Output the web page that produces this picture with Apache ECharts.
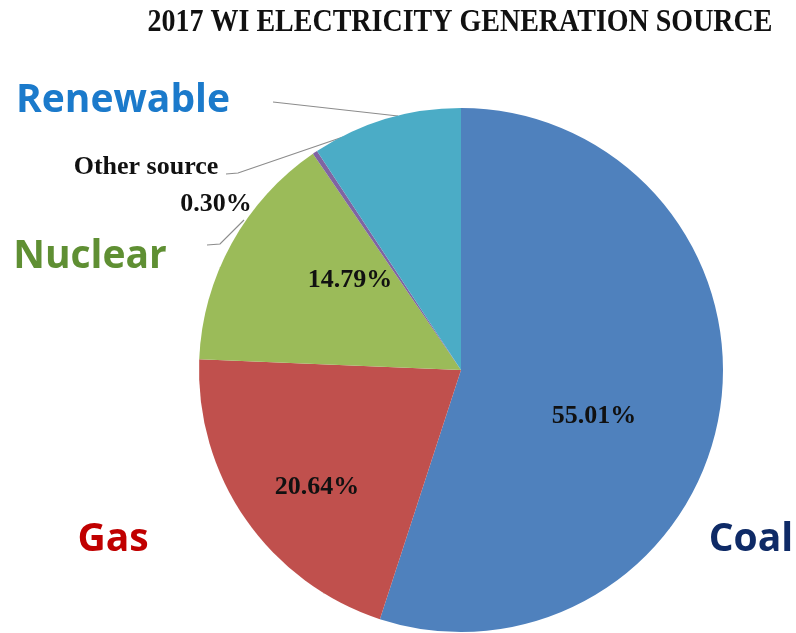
<!DOCTYPE html>
<html>
<head>
<meta charset="utf-8">
<script src="https://cdn.jsdelivr.net/npm/echarts@6/dist/echarts.min.js"></script>
<style>
  html, body { margin: 0; padding: 0; background: #ffffff; }
  #chart { width: 796px; height: 633px; }
</style>
</head>
<body>
<div id="chart"></div>
<script>
// 2017 Wisconsin electricity generation, share by source (%)
const sources = ['Coal', 'Gas', 'Nuclear', 'Other source', 'Renewable'];
const shares = [55.01, 20.64, 14.79, 0.30, 9.26];
const sliceColors = ['#4F81BD', '#C0504D', '#9BBB59', '#8064A2', '#4BACC6'];
const titleText = '2017 WI ELECTRICITY GENERATION SOURCE';

const serif = '"Liberation Serif", "DejaVu Serif", serif';
const sans = '"Open Sans", Lato, sans-serif';

// Which slices show their percentage inside the pie
const showPctInside = { 'Coal': true, 'Gas': true, 'Nuclear': true };

// Name label styles (large coloured words around the pie)
const nameStyle = {
  'Coal':      { color: '#0e2a66', fontSize: 39, fontFamily: sans },
  'Gas':       { color: '#c00000', fontSize: 39, fontFamily: sans },
  'Nuclear':   { color: '#5f8f33', fontSize: 39, fontFamily: sans },
  'Renewable': { color: '#1b7acb', fontSize: 39, fontFamily: sans },
  'Other source': { color: '#111', fontSize: 26, fontFamily: serif }
};

// Placement of labels around the pie
const pctPos = { 'Coal': [594, 416], 'Gas': [317, 487], 'Nuclear': [350, 280], 'Other source': [216, 204] };
const namePos = { 'Coal': [751, 540], 'Gas': [113, 540], 'Nuclear': [90, 257], 'Renewable': [123, 101], 'Other source': [146, 167] };
const guideLines = {
  'Renewable': [[273, 102], [398, 116]],
  'Other source': [[226, 174], [238, 173], [343, 137]],
  'Nuclear': [[207, 245], [220, 244], [244, 220]]
};

const fmtPct = v => v.toFixed(2) + '%';

const chart = echarts.init(document.getElementById('chart'), null, { renderer: 'canvas' });

const radius = 262;
const lineStyle = { color: '#8c8c8c', width: 1.2 };

// Pie slices with percentage labels
const mainData = sources.map((name, i) => {
  const item = { name: name, value: shares[i], itemStyle: { color: sliceColors[i] } };
  if (showPctInside[name]) {
    item.label = { show: true, position: 'inside', formatter: fmtPct(shares[i]) };
  } else {
    const st = nameStyle[name];
    item.label = { show: true, position: 'outside', overflow: 'none', formatter: name,
      color: st.color, fontSize: st.fontSize, fontFamily: st.fontFamily, fontWeight: 'bold' };
    item.labelLine = { show: true, lineStyle: lineStyle };
  }
  return item;
});

// Transparent overlay carrying the source names and the small-share value
const overlayData = sources.map((name, i) => {
  const item = { name: name, value: shares[i], itemStyle: { color: 'rgba(0,0,0,0)' } };
  if (name === 'Other source') {
    item.label = { show: true, position: 'inside', formatter: fmtPct(shares[i]),
      color: '#111', fontSize: 26, fontFamily: serif, fontWeight: 'bold' };
  } else if (name === 'Renewable') {
    item.label = { show: false };
  } else {
    const st = nameStyle[name];
    const withLine = name === 'Nuclear';
    item.label = { show: true, position: withLine ? 'outside' : 'inside', overflow: 'none', formatter: name,
      color: st.color, fontSize: st.fontSize, fontFamily: st.fontFamily, fontWeight: 'bold' };
    item.labelLine = { show: withLine, lineStyle: lineStyle };
  }
  return item;
});

chart.setOption({
  backgroundColor: '#ffffff',
  animation: false,
  graphic: [{
    type: 'text',
    x: 460, y: 23,
    scaleY: 1.12,
    style: {
      text: titleText,
      x: 0, y: 0,
      align: 'center', verticalAlign: 'middle',
      font: 'bold 28px ' + serif,
      fill: '#111'
    }
  }],
  series: [
    {
      type: 'pie',
      center: [461, 370],
      radius: radius,
      startAngle: 90,
      clockwise: true,
      data: mainData,
      label: { color: '#111', fontSize: 26, fontFamily: serif, fontWeight: 'bold', overflow: 'none' },
      labelLayout: function (p) {
        const name = sources[p.dataIndex];
        const pos = showPctInside[name] ? pctPos[name] : namePos[name];
        const out = { x: pos[0], y: pos[1], align: 'center', verticalAlign: 'middle' };
        if (guideLines[name] && !showPctInside[name]) out.labelLinePoints = guideLines[name];
        return out;
      },
      emphasis: { disabled: true }
    },
    {
      type: 'pie',
      center: [461, 370],
      radius: radius,
      startAngle: 90,
      clockwise: true,
      silent: true,
      data: overlayData,
      labelLayout: function (p) {
        const name = sources[p.dataIndex];
        const pos = name === 'Other source' ? pctPos[name] : namePos[name];
        const out = { x: pos[0], y: pos[1], align: 'center', verticalAlign: 'middle' };
        if (name === 'Nuclear') out.labelLinePoints = guideLines[name];
        return out;
      }
    }
  ]
});
</script>
</body>
</html>
